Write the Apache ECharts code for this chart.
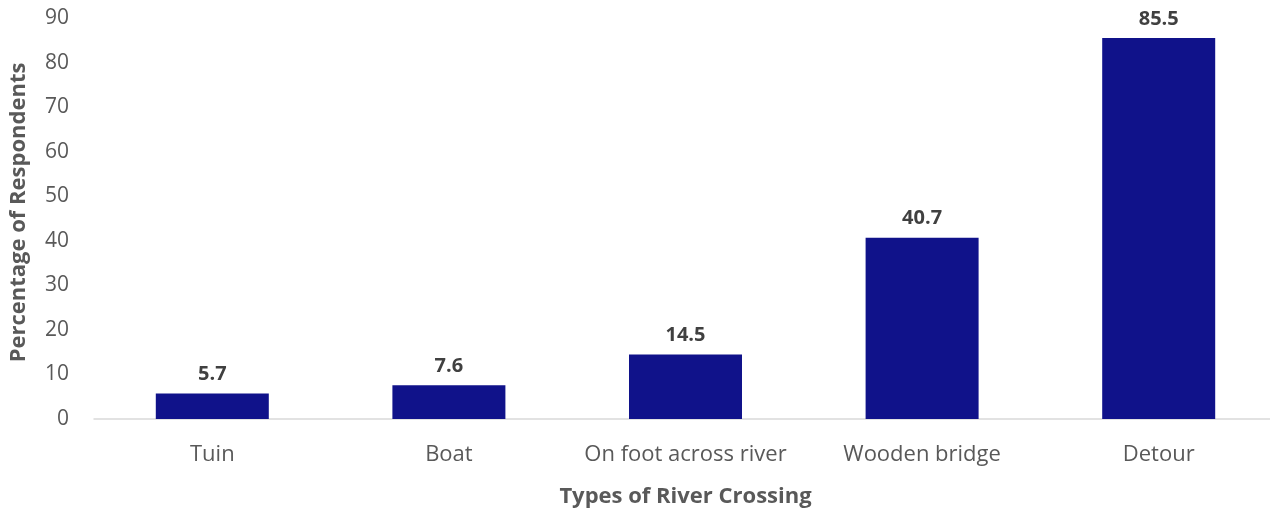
<!DOCTYPE html>
<html>
<head>
<meta charset="utf-8">
<script src="https://cdn.jsdelivr.net/npm/echarts@6/dist/echarts.min.js"></script>
<style>
  html, body { margin: 0; padding: 0; background: #fff; }
  #main { width: 1270px; height: 510px; }
</style>
</head>
<body>
<div id="main"></div>
<script>
    // 渡河方式 / 受访者比例
    var categories = ['Tuin', 'Boat', 'On foot across river', 'Wooden bridge', 'Detour'];
    var values = [5.7, 7.6, 14.5, 40.7, 85.5];
    var yTicks = [0, 90, 10]; // min, max, interval

    var chart = echarts.init(document.getElementById('main'));

    var option = {
        animation: false,
        textStyle: { fontFamily: 'Open Sans' },
        grid: {
            left: 94,
            width: 1183,
            top: 18,
            bottom: 91,
            outerBoundsMode: 'none'
        },
        xAxis: {
            type: 'category',
            data: categories,
            name: 'Types of River Crossing',
            nameLocation: 'middle',
            nameGap: 67,
            nameTextStyle: { fontSize: 22, fontWeight: 'bold', color: '#595959' },
            axisLine: { lineStyle: { color: '#d9d9d9', width: 1.5 } },
            axisTick: { show: false },
            axisLabel: { interval: 0, fontSize: 22, color: '#595959', margin: 25 }
        },
        yAxis: {
            type: 'value',
            min: yTicks[0],
            max: yTicks[1],
            interval: yTicks[2],
            name: 'Percentage of Respondents',
            nameLocation: 'middle',
            nameGap: 64,
            nameTextStyle: { fontSize: 22, fontWeight: 'bold', color: '#595959', padding: [0, 0, 0, 12] },
            axisLine: { show: false },
            axisTick: { show: false },
            splitLine: { show: false },
            axisLabel: { fontSize: 21, color: '#595959', margin: 25 }
        },
        series: [
            {
                type: 'bar',
                data: values,
                barWidth: 113,
                itemStyle: { color: '#10128a' },
                label: {
                    show: true,
                    position: 'top',
                    distance: 9,
                    fontSize: 20,
                    fontWeight: 'bold',
                    color: '#404040'
                }
            }
        ]
    };

    chart.setOption(option);
</script>
</body>
</html>
